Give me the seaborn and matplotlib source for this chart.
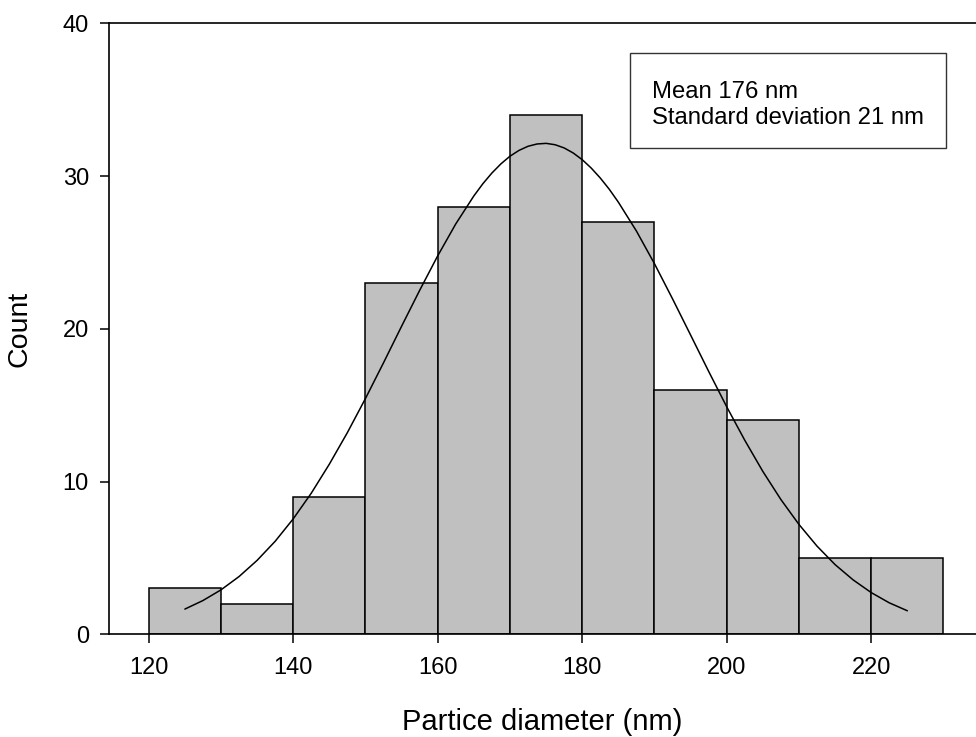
"""Particle size histogram with fitted normal curve."""

import matplotlib
matplotlib.use("Agg")
import matplotlib.pyplot as plt
from matplotlib.patches import Rectangle
import seaborn as sns

# histogram bins (nm) and counts
bin_edges = [120, 130, 140, 150, 160, 170, 180, 190, 200, 210, 220, 230]
counts = [3, 2, 9, 23, 28, 34, 27, 16, 14, 5, 5]

# fitted curve (denser near the peak)
curve_x = [125, 127.5, 130, 132.5, 135, 137.5, 140, 142.5, 145, 147.5,
           150, 152.5, 155, 157.5, 160, 162.5, 165, 166.25, 167.5, 168.75,
           170, 171.25, 172.5, 173.75, 175, 176.25, 177.5, 178.75, 180, 181.25,
           182.5, 183.75, 185, 187.5, 190, 192.5, 195, 197.5,
           200, 202.5, 205, 207.5, 210, 212.5, 215, 217.5, 220, 222.5, 225]
curve_y = [1.65, 2.21, 2.91, 3.78, 4.84, 6.09, 7.56, 9.24, 11.14, 13.21,
           15.44, 17.78, 20.17, 22.52, 24.78, 26.87, 28.70, 29.50, 30.20, 30.80,
           31.30, 31.68, 31.95, 32.10, 32.14, 32.05, 31.84, 31.51, 31.07, 30.52,
           29.87, 29.13, 28.29, 26.40, 24.26, 21.96, 19.59, 17.21,
           14.89, 12.70, 10.66, 8.82, 7.19, 5.77, 4.56, 3.56, 2.73, 2.06, 1.54]

x_ticks = [120, 140, 160, 180, 200, 220]
y_ticks = [0, 10, 20, 30, 40]
stats_text = "Mean 176 nm\nStandard deviation 21 nm"

sns.set_style("ticks")
plt.rcParams["font.family"] = ["Liberation Sans", "DejaVu Sans"]
plt.rcParams["text.color"] = "black"
plt.rcParams["axes.labelcolor"] = "black"

W, H = 976, 737
fig = plt.figure(figsize=(W / 100, H / 100), dpi=100)
ax = fig.add_axes([109 / W, 1 - 634.3 / H, 1 - 109 / W, (634.3 - 23.3) / H])

centers = [(a + b) / 2 for a, b in zip(bin_edges[:-1], bin_edges[1:])]
sns.histplot(x=centers, weights=counts, bins=bin_edges, ax=ax,
             color="#c0c0c0", alpha=1, edgecolor="black", linewidth=1.1)
sns.lineplot(x=curve_x, y=curve_y, ax=ax, color="black", linewidth=1.1)

ax.set_xlim(114.5, 234.5)
ax.set_ylim(0, 40)
ax.set_xticks(x_ticks)
ax.set_yticks(y_ticks)
ax.tick_params(direction="out", length=6.5, width=1.1, labelsize=17,
               colors="black")
ax.tick_params(axis="x", pad=10)
ax.tick_params(axis="y", pad=8)
for side in ["left", "bottom", "top"]:
    ax.spines[side].set_visible(True)
    ax.spines[side].set_linewidth(1.2)
    ax.spines[side].set_color("black")
ax.spines["right"].set_visible(False)

ax.set_xlabel("Partice diameter (nm)", fontsize=21, labelpad=21, color="black")
ax.set_ylabel("Count", fontsize=20.5, labelpad=22, color="black")

# stats box
fig.patches.append(Rectangle((630 / W, 1 - 148 / H), 316 / W, 95 / H,
                             transform=fig.transFigure, fill=False,
                             edgecolor="#333333", linewidth=1.0))
fig.text(652 / W, 1 - 105 / H, stats_text, fontsize=17.2, va="center",
         ha="left", linespacing=1.2, color="black")

fig.savefig("out.png", dpi=100)
